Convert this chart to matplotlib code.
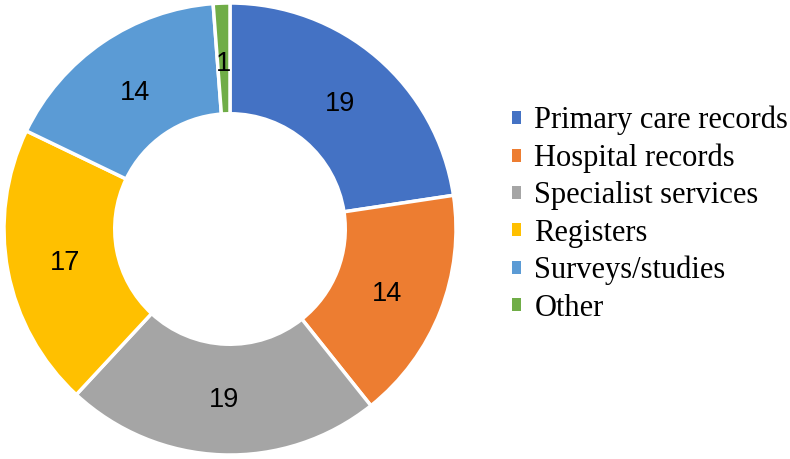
import matplotlib
matplotlib.use("Agg")
import matplotlib.pyplot as plt

categories = ["Primary care records", "Hospital records", "Specialist services",
              "Registers", "Surveys/studies", "Other"]
counts = [19, 14, 19, 17, 14, 1]
colors = ["#4472C4", "#ED7D31", "#A5A5A5", "#FFC000", "#5B9BD5", "#70AD47"]

fig = plt.figure(figsize=(7.9, 4.59), dpi=100)
ax = fig.add_axes([4 / 790, 4 / 459, 452 / 790, 452 / 459])

wedges, texts = ax.pie(
    counts, colors=colors, startangle=90, counterclock=False,
    labels=[str(c) for c in counts], labeldistance=0.745,
    wedgeprops=dict(width=0.49, edgecolor="white", linewidth=2.5),
    textprops=dict(fontsize=19.5, family="Liberation Sans", color="black"),
)
# nudge labels so the digits sit visually centred in the ring
for t in texts:
    t.set_ha("center")
    t.set_va("center_baseline")

ax.set_xlim(-1, 1)
ax.set_ylim(-1, 1)
ax.set_aspect("equal")
ax.axis("off")

leg = fig.legend(
    wedges, categories, loc="center left", bbox_to_anchor=(0.633, 0.533),
    frameon=False, prop=dict(family="Liberation Serif", size=22),
    handlelength=0.3, handleheight=0.3, handletextpad=0.42, labelspacing=0.27,
    borderaxespad=0,
)
for h in leg.legend_handles:
    h.set_edgecolor("none")

fig.savefig("out.png", dpi=100, facecolor="white")
